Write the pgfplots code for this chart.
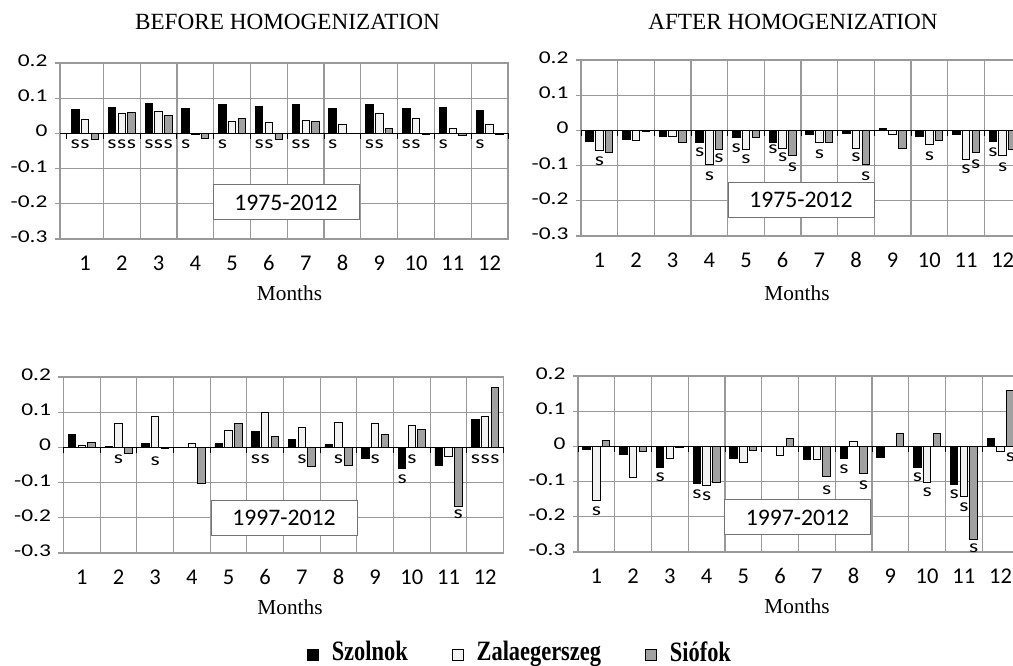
\documentclass[border=0pt]{standalone}
\usepackage{fontspec}
\setmainfont{Liberation Serif}
\newfontfamily\calfont{Carlito}
\newfontfamily\legfont[FakeStretch=0.8]{Liberation Serif}
\usepackage{graphicx}
\usepackage{pgfplots}
\pgfplotsset{compat=1.18}
\definecolor{gridgray}{gray}{0.6}
\definecolor{barwhite}{gray}{0.95}
\definecolor{bargray}{gray}{0.63}
\newcommand{\yl}[1]{\scalebox{1.3}[1]{#1}}
\newcommand{\sg}[2]{\node[font=\calfont\fontsize{18}{18}\selectfont, inner sep=0pt] at (axis cs:#1,#2) {\scalebox{1.3}[1]{s}};}
\newcommand{\zeroline}[1]{%
  \draw[black, line width=1.5pt] (axis cs:#1,0) -- (axis cs:12.5,0);
  \pgfplotsinvokeforeach{0.5,1.5,2.5,3.5,4.5,5.5,6.5,7.5,8.5,9.5,10.5,11.5,12.5}{\draw[black, line width=1pt] (axis cs:##1,0) -- ++(0pt,-6pt);}%
}
\pgfplotsset{
  panel/.style={
    scale only axis, height=176pt,
    xmin=0.5, xmax=12.5, ymin=-0.3, ymax=0.2,
    ybar=2.3pt, bar width=7.5pt,
    xtick={1,2,3,4,5,6,7,8,9,10,11,12},
    xticklabels={1,2,3,4,5,6,7,8,9,10,11,12},
    minor xtick={0.5,1.5,2.5,3.5,4.5,5.5,6.5,7.5,8.5,9.5,10.5,11.5,12.5},
    ytick={-0.3,-0.2,-0.1,0,0.1,0.2},
    yticklabels={\yl{-0.3},\yl{-0.2},\yl{-0.1},\yl{0},\yl{0.1},\yl{0.2}},
    xmajorgrids=false, xminorgrids=true, ymajorgrids=true,
    grid style={draw=gridgray, line width=1.2pt},
    minor grid style={draw=gridgray, line width=1.2pt},
    axis line style={draw=gridgray, line width=1.2pt},
    xtick style={draw=none},
    minor tick length=0pt,
    ytick style={draw=gridgray, line width=1.2pt},
    tick align=outside, major tick length=5pt,
    ytick pos=left,
    typeset ticklabels with strut,
    xticklabel style={font=\calfont\fontsize{22.5}{22.5}\selectfont, yshift=-7.5pt},
    yticklabel style={font=\calfont\fontsize{18}{18}\selectfont, xshift=-4pt},
    clip=false,
  },
  S1/.style={fill=black, draw=black, line width=0.9pt,
    legend image code/.code={\draw[##1] (0pt,-9pt) rectangle (11pt,2pt);}},
  S2/.style={fill=barwhite, draw=black, line width=0.9pt,
    legend image code/.code={\draw[##1] (0pt,-9pt) rectangle (11pt,2pt);}},
  S3/.style={fill=bargray, draw=black, line width=0.9pt,
    legend image code/.code={\draw[##1] (0pt,-9pt) rectangle (11pt,2pt);}},
}
\begin{document}
\begin{tikzpicture}[x=1pt,y=1pt]
\useasboundingbox (0,0) rectangle (1013,666);
\clip (0,0) rectangle (1013,666);

% ---------- Top left: before homogenization, 1975-2012
\begin{axis}[panel, at={(60pt,427pt)}, anchor=south west, width=448pt, xmin=0.32,
  minor xtick={1.5,2.5,3.5,4.5,5.5,6.5,7.5,8.5,9.5,10.5,11.5,12.5}]
\addplot[S1] coordinates {(1,0.067)(2,0.074)(3,0.084)(4,0.070)(5,0.083)(6,0.076)(7,0.081)(8,0.071)(9,0.083)(10,0.070)(11,0.074)(12,0.064)};
\addplot[S2] coordinates {(1,0.040)(2,0.058)(3,0.062)(4,-0.002)(5,0.033)(6,0.030)(7,0.037)(8,0.025)(9,0.057)(10,0.042)(11,0.013)(12,0.024)};
\addplot[S3] coordinates {(1,-0.016)(2,0.060)(3,0.052)(4,-0.014)(5,0.042)(6,-0.017)(7,0.035)(8,-0.001)(9,0.013)(10,-0.003)(11,-0.006)(12,-0.002)};
\zeroline{0.32}
\sg{0.735}{-0.031}\sg{1}{-0.031}
\sg{1.735}{-0.031}\sg{2}{-0.031}\sg{2.265}{-0.031}
\sg{2.735}{-0.031}\sg{3}{-0.031}\sg{3.265}{-0.031}
\sg{3.735}{-0.031}
\sg{4.735}{-0.031}
\sg{5.735}{-0.031}\sg{6}{-0.031}
\sg{6.735}{-0.031}\sg{7}{-0.031}
\sg{7.735}{-0.031}
\sg{8.735}{-0.031}\sg{9}{-0.031}
\sg{9.735}{-0.031}\sg{10}{-0.031}
\sg{10.735}{-0.031}
\sg{11.735}{-0.031}
\end{axis}

% ---------- Top right: after homogenization, 1975-2012
\begin{axis}[panel, at={(581pt,430pt)}, anchor=south west, width=440pt]
\addplot[S1] coordinates {(1,-0.030)(2,-0.026)(3,-0.016)(4,-0.033)(5,-0.019)(6,-0.033)(7,-0.011)(8,-0.010)(9,0.005)(10,-0.016)(11,-0.011)(12,-0.030)};
\addplot[S2] coordinates {(1,-0.057)(2,-0.029)(3,-0.017)(4,-0.097)(5,-0.054)(6,-0.050)(7,-0.035)(8,-0.052)(9,-0.011)(10,-0.040)(11,-0.083)(12,-0.071)};
\addplot[S3] coordinates {(1,-0.062)(2,-0.002)(3,-0.035)(4,-0.054)(5,-0.021)(6,-0.071)(7,-0.033)(8,-0.097)(9,-0.052)(10,-0.029)(11,-0.062)(12,-0.054)};
\zeroline{0.5}
\sg{1}{-0.088}
\sg{3.735}{-0.062}\sg{4}{-0.129}\sg{4.265}{-0.078}
\sg{4.735}{-0.050}\sg{5}{-0.081}
\sg{5.735}{-0.054}\sg{6}{-0.076}\sg{6.265}{-0.105}
\sg{7}{-0.067}
\sg{8}{-0.076}\sg{8.265}{-0.129}
\sg{10}{-0.073}
\sg{11}{-0.110}\sg{11.265}{-0.097}
\sg{11.735}{-0.062}\sg{12}{-0.105}
\end{axis}

% ---------- Bottom left: before homogenization, 1997-2012
\begin{axis}[panel, at={(63.5pt,113pt)}, anchor=south west, width=440pt,
  legend style={at={(1.035,-0.562)}, anchor=center, draw=none, fill=none,
    legend columns=3, font=\legfont\bfseries\fontsize{28}{28}\selectfont,
    nodes={inner sep=0pt}, column sep=13pt,
    /tikz/every even column/.append style={column sep=44pt}},
  legend cell align=left]
\addplot[S1] coordinates {(1,0.038)(2,0.002)(3,0.012)(4,0)(5,0.010)(6,0.045)(7,0.023)(8,0.007)(9,-0.030)(10,-0.060)(11,-0.052)(12,0.079)};
\addplot[S2] coordinates {(1,0.005)(2,0.069)(3,0.088)(4,0.010)(5,0.048)(6,0.098)(7,0.057)(8,0.071)(9,0.069)(10,0.062)(11,-0.027)(12,0.089)};
\addplot[S3] coordinates {(1,0.014)(2,-0.017)(3,-0.004)(4,-0.102)(5,0.067)(6,0.031)(7,-0.055)(8,-0.050)(9,0.037)(10,0.051)(11,-0.167)(12,0.171)};
\legend{Szolnok,Zalaegerszeg,Siófok}
\zeroline{0.5}
\sg{2}{-0.033}
\sg{3}{-0.038}
\sg{5.735}{-0.033}\sg{6}{-0.033}
\sg{7}{-0.033}
\sg{8}{-0.033}
\sg{9}{-0.033}
\sg{9.735}{-0.090}\sg{10}{-0.033}
\sg{11.265}{-0.190}
\sg{11.735}{-0.033}\sg{12}{-0.033}\sg{12.265}{-0.033}
\end{axis}

% ---------- Bottom right: after homogenization, 1997-2012
\begin{axis}[panel, at={(578pt,114pt)}, anchor=south west, width=441pt]
\addplot[S1] coordinates {(1,-0.008)(2,-0.024)(3,-0.061)(4,-0.104)(5,-0.035)(6,0)(7,-0.038)(8,-0.034)(9,-0.031)(10,-0.061)(11,-0.107)(12,0.022)};
\addplot[S2] coordinates {(1,-0.154)(2,-0.088)(3,-0.033)(4,-0.111)(5,-0.047)(6,-0.026)(7,-0.038)(8,0.014)(9,0)(10,-0.102)(11,-0.142)(12,-0.014)};
\addplot[S3] coordinates {(1,0.017)(2,-0.014)(3,-0.004)(4,-0.103)(5,-0.011)(6,0.022)(7,-0.085)(8,-0.078)(9,0.036)(10,0.038)(11,-0.264)(12,0.158)};
\zeroline{0.5}
\sg{1}{-0.183}
\sg{2.735}{-0.088}
\sg{3.735}{-0.135}\sg{4}{-0.142}
\sg{7.265}{-0.124}
\sg{7.735}{-0.064}\sg{8.265}{-0.109}
\sg{9.735}{-0.088}\sg{10}{-0.130}
\sg{10.735}{-0.135}\sg{11}{-0.173}\sg{11.265}{-0.288}
\sg{12.265}{-0.030}
\end{axis}

% ---------- period boxes
\tikzset{pbox/.style={draw=black!55, line width=1pt, fill=white, inner sep=0pt,
  minimum width=146pt, minimum height=35pt, font=\calfont\fontsize{23.7}{23.7}\selectfont}}
\node[pbox] at (286,463.5) {1975-2012};
\node[pbox] at (801,466) {1975-2012};
\node[pbox] at (284,148) {1997-2012};
\node[pbox] at (797.5,148.5) {1997-2012};

% ---------- titles and axis labels
\node[anchor=base, font=\fontsize{23.2}{23.2}\selectfont] at (287.5,636) {BEFORE HOMOGENIZATION};
\node[anchor=base, font=\fontsize{23.2}{23.2}\selectfont] at (793,636) {AFTER HOMOGENIZATION};
\node[anchor=base, font=\fontsize{21.3}{21.3}\selectfont] at (289.5,365) {Months};
\node[anchor=base, font=\fontsize{21.3}{21.3}\selectfont] at (797,365) {Months};
\node[anchor=base, font=\fontsize{21.3}{21.3}\selectfont] at (290,51) {Months};
\node[anchor=base, font=\fontsize{21.3}{21.3}\selectfont] at (797,52) {Months};
\end{tikzpicture}
\end{document}
